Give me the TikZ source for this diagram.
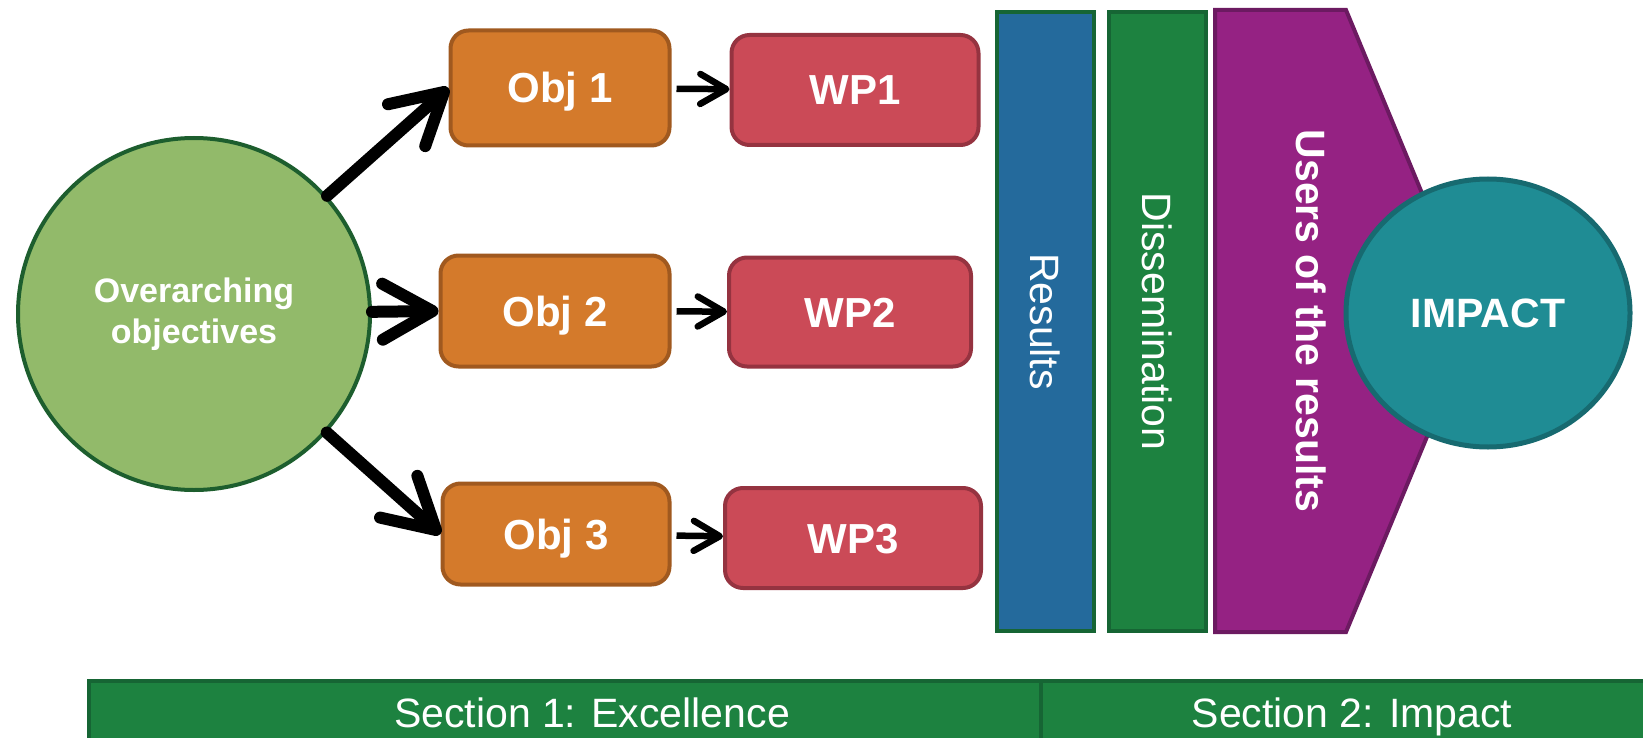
\documentclass[tikz,border=0pt]{standalone}
\usepackage{fontspec}
\setmainfont{Liberation Sans}
\usetikzlibrary{arrows.meta,shapes.geometric}

\definecolor{goalgreen}{HTML}{92BA6A}
\definecolor{goaldark}{HTML}{1D5E2E}
\definecolor{objorange}{HTML}{D47A2B}
\definecolor{objdark}{HTML}{A0591F}
\definecolor{wpred}{HTML}{CB4A57}
\definecolor{wpdark}{HTML}{953340}
\definecolor{resblue}{HTML}{246A9C}
\definecolor{disgreen}{HTML}{1D8240}
\definecolor{bardark}{HTML}{166534}
\definecolor{userpurple}{HTML}{952283}
\definecolor{userdark}{HTML}{6C1A61}
\definecolor{impteal}{HTML}{1F8C94}
\definecolor{impdark}{HTML}{176A70}

\tikzset{
	objbox/.style={draw=objdark,fill=objorange,line width=4pt,rounded corners=18pt,text=white,
		font=\fontsize{42}{50}\selectfont\bfseries,text height=30pt,text depth=0pt},
	wpbox/.style={objbox,draw=wpdark,fill=wpred},
	bigarrow/.style={line width=12pt,-{Straight Barb[length=50pt,width=56pt,line width=12pt,round]},line cap=round},
	smallarrow/.style={line width=6.5pt,-{Straight Barb[length=26pt,width=30pt,line width=6.5pt,round]},shorten <=5pt},
	vbar/.style={draw=bardark,line width=4pt,rotate=-90,text=white,font=\fontsize{41}{49}\selectfont,
		text height=30pt,text depth=0pt,minimum width=619pt,minimum height=97pt},
	sectxt/.style={text=white,font=\fontsize{41}{49}\selectfont,anchor=base}
}

\begin{document}
\begin{tikzpicture} [x=1pt,y=-1pt]
			\useasboundingbox (0,0) rectangle (1643,738);
			
			\node[circle,draw=goaldark,fill=goalgreen,line width=4pt,minimum size=352pt,align=center,text=white,
				font=\fontsize{34}{41}\selectfont\bfseries] (goal) at (194,314) {Overarching\\objectives};
			
			\node[objbox,minimum width=219pt,minimum height=115pt] (obj1) at (560,88) {Obj 1};
			\node[objbox,minimum width=229pt,minimum height=111pt] (obj2) at (555,311) {Obj 2};
			\node[objbox,minimum width=227pt,minimum height=101pt] (obj3) at (556,534) {Obj 3};
			
			\node[wpbox,minimum width=247pt,minimum height=110pt] (wp1) at (855,90) {WP1};
			\node[wpbox,minimum width=242pt,minimum height=109pt] (wp2) at (850,312) {WP2};
			\node[wpbox,minimum width=256pt,minimum height=100pt] (wp3) at (853,538) {WP3};
			
			\foreach \i in {1,2,3}
			\draw[bigarrow] (goal) -- (obj\i.west);
			\foreach \i in {1,2,3}
			\draw[smallarrow] (obj\i) -- (wp\i);
			
			\node[vbar,fill=resblue] (results) at (1045,321.5) {Results};
			\node[vbar,fill=disgreen] (dissem) at (1157.5,321.5) {Dissemination};
			
			\draw[draw=userdark,fill=userpurple,line width=4pt] (1215,10) -- (1346,10) -- (1475,321) -- (1346,632) -- (1215,632) -- cycle;
			\node[rotate=-90,text=white,font=\fontsize{41}{49}\selectfont\bfseries,text height=30pt,text depth=0pt] (users) at (1311,321) {Users of the results};
			
			\node[ellipse,draw=impdark,fill=impteal,line width=5pt,minimum width=284pt,minimum height=268pt,text=white,
				font=\fontsize{41}{49}\selectfont\bfseries] (impact) at (1488,313) {IMPACT};
			
			\draw[draw=bardark,fill=disgreen,line width=4pt] (89,681) rectangle (1041,780);
			\draw[draw=bardark,fill=disgreen,line width=4pt] (1041,681) rectangle (1700,780);
			\node[sectxt] (sec1) at (592,727) {Section 1: Excellence};
			\node[sectxt] (sec2) at (1352,727) {Section 2: Impact};
\end{tikzpicture}
\end{document}
